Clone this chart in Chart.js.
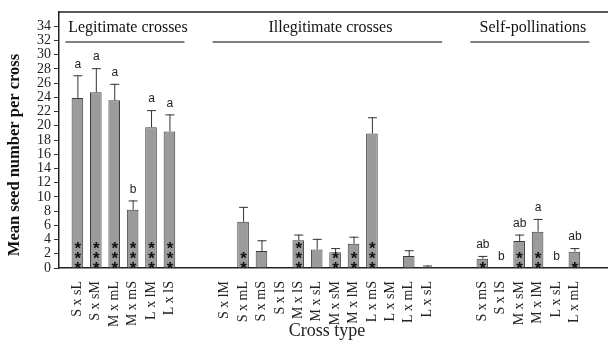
<!DOCTYPE html>
<html lang="en">
<head>
<meta charset="UTF-8">
<title>Seed number per cross</title>
<script src="https://cdn.jsdelivr.net/npm/chart.js"></script>
<style>
  body { margin: 0; background: #fff; overflow: hidden; }
  #wrap { width: 608px; height: 347px; overflow: hidden; }
</style>
</head>
<body>
<div id="wrap"><canvas id="grafico" width="633" height="347"></canvas></div>
<script>
// group labels
var legitLabels = ['S x sL', 'S x sM', 'M x mL', 'M x mS', 'L x lM', 'L x lS'];
var illegLabels = ['S x lM', 'S x mL', 'S x mS', 'S x lS', 'M x lS', 'M x sL', 'M x sM', 'M x lM', 'L x mS', 'L x sM', 'L x mL', 'L x sL'];
var selfLabels = ['S x mS', 'S x lS', 'M x sM', 'M x lM', 'L x sL', 'L x mL'];

// mean seeds per cross
var legitMeans = [23.9, 24.7, 23.6, 8.2, 19.8, 19.2];
var illegMeans = [0, 6.5, 2.4, 0, 3.9, 2.6, 2.2, 3.4, 18.9, 0, 1.7, 0.15];
var selfMeans = [1.3, 0.1, 3.8, 5.1, 0.1, 2.3];

// standard error
var legitSE = [3.2, 3.4, 2.3, 1.3, 2.4, 2.4];
var illegSE = [0, 2.1, 1.5, 0, 0.8, 1.5, 0.6, 1.0, 2.3, 0, 0.8, 0.2];
var selfSE = [0.4, 0, 0.9, 1.8, 0, 0.5];

// asterisks inside bars
var legitStars = [3, 3, 3, 3, 3, 3];
var illegStars = [0, 2, 0, 0, 3, 0, 2, 2, 3, 0, 0, 0];
var selfStars = [1, 0, 2, 2, 0, 1];

// letters above bars
var legitLetters = ['a', 'a', 'a', 'b', 'a', 'a'];
var illegLetters = ['', '', '', '', '', '', '', '', '', '', '', ''];
var selfLetters = ['ab', 'b', 'ab', 'a', 'b', 'ab'];

var groupTitles = ['Legitimate crosses', 'Illegitimate crosses', 'Self-pollinations'];
var yTitle = 'Mean seed number per cross';
var xTitle = 'Cross type';

// montando as categorias com espacos entre grupos
var gap = ['', ''];
var labels = [''].concat(legitLabels, gap, illegLabels, gap, selfLabels, gap);
var nul = [null, null];
var medias = [null].concat(legitMeans, nul, illegMeans, nul, selfMeans, nul);
var erros = [null].concat(legitSE, nul, illegSE, nul, selfSE, nul);
var estrelas = [0].concat(legitStars, [0, 0], illegStars, [0, 0], selfStars, [0, 0]);
var letras = [''].concat(legitLetters, gap, illegLetters, gap, selfLetters, gap);

// indices of each group (first, last)
var grupos = [
  [1, legitLabels.length],
  [legitLabels.length + 3, legitLabels.length + 2 + illegLabels.length],
  [legitLabels.length + illegLabels.length + 5, legitLabels.length + illegLabels.length + 4 + selfLabels.length]
];

var serif = '"Liberation Serif", "Times New Roman", serif';
var sans = '"Liberation Sans", Arial, sans-serif';

var extras = {
  id: 'extras',
  afterDatasetsDraw: function (chart) {
    var ctx = chart.ctx;
    var x = chart.scales.x, y = chart.scales.y;
    var area = chart.chartArea;
    ctx.save();

    // top frame line
    ctx.strokeStyle = '#222';
    ctx.lineWidth = 1.5;
    ctx.beginPath();
    ctx.moveTo(area.left, area.top);
    ctx.lineTo(area.right, area.top);
    ctx.stroke();

    // error bars
    ctx.strokeStyle = '#333';
    ctx.lineWidth = 1;
    for (var i = 0; i < medias.length; i++) {
      if (medias[i] == null || !erros[i]) continue;
      var cx = x.getPixelForValue(i);
      var y0 = y.getPixelForValue(medias[i]);
      var y1 = y.getPixelForValue(medias[i] + erros[i]);
      ctx.beginPath();
      ctx.moveTo(cx + 0.5, y0);
      ctx.lineTo(cx + 0.5, y1);
      ctx.moveTo(cx - 4, y1 + 0.5);
      ctx.lineTo(cx + 5, y1 + 0.5);
      ctx.stroke();
    }

    // letters
    ctx.fillStyle = '#222';
    ctx.font = '12px ' + sans;
    ctx.textAlign = 'center';
    ctx.textBaseline = 'bottom';
    for (var i = 0; i < letras.length; i++) {
      if (!letras[i]) continue;
      var topo = medias[i] + (erros[i] || 0);
      ctx.fillText(letras[i], x.getPixelForValue(i) + 0.5, y.getPixelForValue(topo) - 5);
    }

    // asterisks
    ctx.fillStyle = '#111';
    ctx.font = 'bold 17px ' + sans;
    ctx.textBaseline = 'alphabetic';
    for (var i = 0; i < estrelas.length; i++) {
      for (var k = 0; k < estrelas[i]; k++) {
        ctx.fillText('*', x.getPixelForValue(i) + 0.5, y.getPixelForValue(0) + 6 - k * 9.8);
      }
    }

    // group titles with underline
    ctx.fillStyle = '#111';
    ctx.font = '16px ' + serif;
    for (var g = 0; g < grupos.length; g++) {
      var xa = x.getPixelForValue(grupos[g][0]) - 12;
      var xb = x.getPixelForValue(grupos[g][1]) + 15;
      ctx.fillText(groupTitles[g], (xa + xb) / 2 + 3, area.top + 20);
      ctx.strokeStyle = '#555';
      ctx.lineWidth = 1.5;
      ctx.beginPath();
      ctx.moveTo(xa, area.top + 30);
      ctx.lineTo(xb, area.top + 30);
      ctx.stroke();
    }

    // titulo do eixo x
    ctx.fillStyle = '#222';
    ctx.font = '18px ' + serif;
    ctx.textBaseline = 'middle';
    ctx.fillText(xTitle, 327, 331);

    // titulo do eixo y
    ctx.fillStyle = '#111';
    ctx.translate(15, 155);
    ctx.rotate(-Math.PI / 2);
    ctx.font = 'bold 16.5px ' + serif;
    ctx.fillText(yTitle, 0, 0);
    ctx.restore();
  }
};

new Chart(document.getElementById('grafico'), {
  type: 'bar',
  data: {
    labels: labels,
    datasets: [{
      data: medias,
      backgroundColor: '#9b9b9b',
      borderColor: '#3a3a3a',
      borderWidth: 1,
      barPercentage: 0.63,
      categoryPercentage: 1
    }]
  },
  options: {
    responsive: false,
    animation: false,
    layout: { padding: { top: 12, right: 2, bottom: 0, left: 0 } },
    plugins: { legend: { display: false }, tooltip: { enabled: false } },
    scales: {
      x: {
        offset: false,
        grid: { display: false },
        border: { color: '#222', width: 1.5 },
        ticks: {
          autoSkip: false,
          maxRotation: 90,
          minRotation: 90,
          color: '#222',
          padding: 5,
          font: { family: serif, size: 14 }
        },
        afterFit: function (scale) { scale.height = 79; }
      },
      y: {
        min: 0,
        max: 36,
        grid: { display: true, drawOnChartArea: false, drawTicks: true, tickLength: 5, color: '#333' },
        border: { color: '#222', width: 1.5 },
        afterBuildTicks: function (scale) {
          scale.ticks = scale.ticks.filter(function (t) { return t.value <= 34; });
        },
        ticks: {
          stepSize: 2,
          autoSkip: false,
          color: '#222',
          padding: 3,
          font: { family: serif, size: 14 }
        },
        afterFit: function (scale) { scale.width = 59; }
      }
    }
  },
  plugins: [extras]
});
</script>
</body>
</html>
